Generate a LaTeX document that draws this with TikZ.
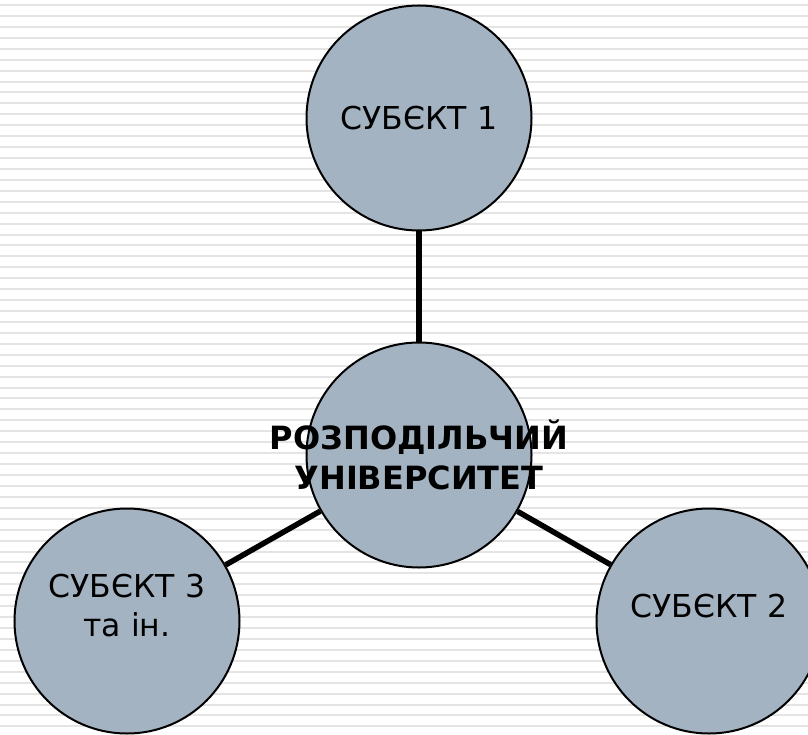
\documentclass[tikz,border=0pt]{standalone}
\usepackage{fontspec}
\setmainfont{DejaVu Sans}
\usepackage{xcolor}
\usetikzlibrary{positioning, backgrounds}
\definecolor{subjfill}{RGB}{164,179,194}
\definecolor{stripe}{RGB}{228,228,228}

\begin{document}
\begin{tikzpicture}[
    x=1bp, y=-1bp,
    node distance=110bp,
    disc/.style={circle, draw, line width=2bp, fill=subjfill, minimum size=225bp, inner sep=0pt},
    caption/.style={align=center, font=\fontsize{31.5bp}{39bp}\selectfont},
    hubcaption/.style={align=center, font=\fontsize{32bp}{40bp}\selectfont\bfseries},
    link/.style={line width=5.5bp}
]
\useasboundingbox (0,0) rectangle (808,735);

% Circles
\node[disc] (hub) at (419,455) {};
\node[disc, above=of hub] (s1) {};
\node[disc, on grid, below right=166bp and 290bp of hub] (s2) {};
\node[disc, on grid, below left=166bp and 292bp of hub] (s3) {};

% Texts
\node[caption] (s1text) at (s1) {СУБЄКТ 1};
\node[caption, yshift=15bp] (s2text) at (s2) {СУБЄКТ 2};
\node[caption, yshift=15bp] (s3text) at (s3) {СУБЄКТ 3\\та ін.};
\node[hubcaption] (hubtext) at (hub) {РОЗПОДІЛЬЧИЙ\\УНІВЕРСИТЕТ};

% Background stripes and links
\begin{scope}[on background layer]
\fill[white] (0,0) rectangle (808,735);
\foreach \k in {0,...,66}
    \draw[stripe, line width=2bp] (0,5+10.93*\k) -- (808,5+10.93*\k);
\draw[link] (hub) -- (s1);
\draw[link] (hub) -- (s2);
\draw[link] (hub) -- (s3);
\end{scope}

\end{tikzpicture}
\end{document}
